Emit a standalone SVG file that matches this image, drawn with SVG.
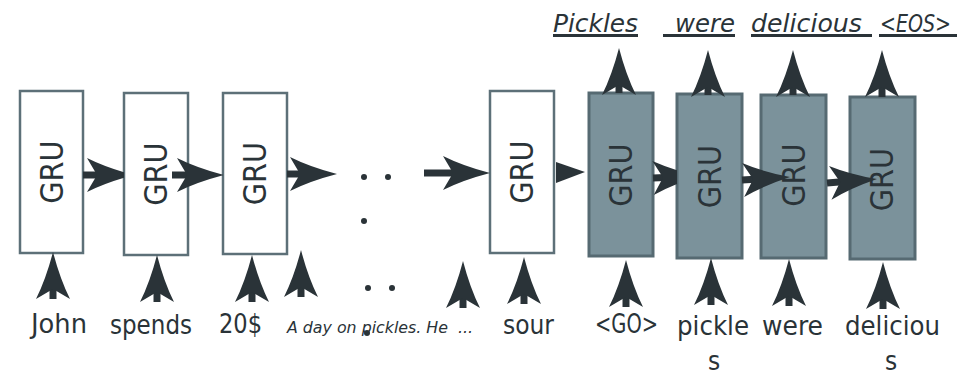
<svg xmlns="http://www.w3.org/2000/svg" width="959" height="375" viewBox="0 0 959 375">
  <style>
    .enc { fill: #ffffff; stroke: #5d7078; stroke-width: 2.5; }
    .dec { fill: #7b929b; stroke: #566a72; stroke-width: 3; }
    .gru { font-family: "DejaVu Sans Condensed", "DejaVu Sans", sans-serif; font-size: 32px; fill: #2a3338; text-anchor: middle; dominant-baseline: central; }
    .lbl { font-family: "DejaVu Sans Condensed", "DejaVu Sans", sans-serif; font-size: 26px; fill: #2a3338; }
    .out { font-family: "DejaVu Sans", sans-serif; font-size: 25px; font-style: italic; fill: #2a3338; }
    .small { font-family: "DejaVu Sans", sans-serif; font-size: 16px; font-style: italic; fill: #2a3338; }
    .edge { stroke: #2a3338; stroke-width: 7; fill: none; marker-end: url(#head); }
    .uline { stroke: #2a3338; stroke-width: 3; }
    .dot { fill: #2a3338; }
  </style>
  <defs>
    <marker id="head" viewBox="0 0 47 34" refX="12" refY="17" markerWidth="47" markerHeight="34" markerUnits="userSpaceOnUse" orient="auto">
      <path d="M47,17 Q20,10 0,0 L10,17 L0,34 Q20,24 47,17 Z" fill="#2a3338"/>
    </marker>
    <clipPath id="toGru2"><rect x="0" y="0" width="124" height="375"/></clipPath>
    <clipPath id="toGru3"><rect x="0" y="0" width="223" height="375"/></clipPath>
    <clipPath id="toSour"><rect x="0" y="0" width="490" height="375"/></clipPath>
    <clipPath id="toDec2"><rect x="0" y="0" width="677" height="375"/></clipPath>
  </defs>

  <!-- encoder cells -->
  <g id="enc1"><rect class="enc" x="20" y="91" width="63" height="162"/><text class="gru" transform="translate(51.5,172) rotate(-90)">GRU</text></g>
  <g id="enc2"><rect class="enc" x="124" y="93" width="64" height="162"/><text class="gru" transform="translate(156,174) rotate(-90)">GRU</text></g>
  <g id="enc3"><rect class="enc" x="223" y="93" width="64" height="161"/><text class="gru" transform="translate(255,173.5) rotate(-90)">GRU</text></g>
  <g id="enc4"><rect class="enc" x="490" y="91" width="64" height="162"/><text class="gru" transform="translate(522,172) rotate(-90)">GRU</text></g>

  <!-- decoder cells -->
  <g id="dec1"><rect class="dec" x="589" y="93" width="64" height="163"/><text class="gru" transform="translate(621,175) rotate(-90)">GRU</text></g>
  <g id="dec2"><rect class="dec" x="677" y="94" width="65" height="164"/><text class="gru" transform="translate(710,176.5) rotate(-90)">GRU</text></g>
  <g id="dec3"><rect class="dec" x="761" y="95" width="65" height="163"/><text class="gru" transform="translate(793.5,175) rotate(-90)">GRU</text></g>
  <g id="dec4"><rect class="dec" x="850" y="97" width="65" height="162"/><text class="gru" transform="translate(882,179.5) rotate(-90)">GRU</text></g>

  <!-- ellipsis dots -->
  <g id="ellipsis">
    <circle class="dot" cx="364" cy="177" r="3"/>
    <circle class="dot" cx="388" cy="177" r="3"/>
    <circle class="dot" cx="364" cy="221" r="3"/>
    <circle class="dot" cx="368" cy="288" r="3"/>
    <circle class="dot" cx="392" cy="288" r="3"/>
    <circle class="dot" cx="367" cy="333" r="3"/>
  </g>

  <!-- connectors -->
  <g id="connectors">
    <!-- recurrent links -->
    <line class="edge" x1="83" y1="175" x2="99" y2="175" clip-path="url(#toGru2)"/>
    <line class="edge" x1="172" y1="175" x2="189" y2="175" clip-path="url(#toGru3)"/>
    <line class="edge" x1="287" y1="174" x2="302" y2="174"/>
    <line class="edge" x1="424" y1="173" x2="455" y2="173" clip-path="url(#toSour)"/>
    <polygon points="556,162 585,172 556,183" fill="#2a3338"/>
    <line class="edge" x1="653" y1="178" x2="665" y2="177.5" clip-path="url(#toDec2)"/>
    <line class="edge" x1="742" y1="180" x2="755.1" y2="179.2"/>
    <line class="edge" x1="827" y1="183" x2="842.1" y2="181.8"/>
    <!-- inputs -->
    <line class="edge" x1="53" y1="299" x2="53" y2="287"/>
    <line class="edge" x1="157" y1="302" x2="157" y2="290"/>
    <line class="edge" x1="252" y1="302" x2="252" y2="290"/>
    <line class="edge" x1="301" y1="297" x2="301" y2="285"/>
    <line class="edge" x1="463" y1="308" x2="463" y2="296"/>
    <line class="edge" x1="524" y1="304" x2="524" y2="292"/>
    <line class="edge" x1="626" y1="307" x2="626" y2="295"/>
    <line class="edge" x1="711" y1="305" x2="711" y2="293"/>
    <line class="edge" x1="789" y1="306" x2="789" y2="294"/>
    <line class="edge" x1="883" y1="309" x2="883" y2="297"/>
    <!-- outputs -->
    <line class="edge" x1="619" y1="93" x2="619" y2="83"/>
    <line class="edge" x1="708" y1="95" x2="708" y2="85"/>
    <line class="edge" x1="793" y1="95" x2="793" y2="85"/>
    <line class="edge" x1="882" y1="97" x2="882" y2="85"/>
  </g>

  <!-- input tokens -->
  <g id="inputs">
    <text class="lbl" x="31" y="333" textLength="56" lengthAdjust="spacingAndGlyphs">John</text>
    <text class="lbl" x="110" y="334" textLength="82" lengthAdjust="spacingAndGlyphs">spends</text>
    <text class="lbl" x="219" y="333" textLength="43" lengthAdjust="spacingAndGlyphs">20$</text>
    <text class="small" x="287" y="333" textLength="186" lengthAdjust="spacingAndGlyphs" xml:space="preserve">A day on pickles. He  ...</text>
    <text class="lbl" x="503" y="334" textLength="51" lengthAdjust="spacingAndGlyphs">sour</text>
    <text class="lbl" x="595" y="333" textLength="63" lengthAdjust="spacingAndGlyphs">&lt;GO&gt;</text>
    <text class="lbl" x="677" y="335" textLength="72" lengthAdjust="spacingAndGlyphs">pickle</text>
    <text class="lbl" x="708" y="370">s</text>
    <text class="lbl" x="762" y="335" textLength="61" lengthAdjust="spacingAndGlyphs">were</text>
    <text class="lbl" x="845" y="335" textLength="95" lengthAdjust="spacingAndGlyphs">deliciou</text>
    <text class="lbl" x="885" y="370">s</text>
  </g>

  <!-- output tokens -->
  <g id="outputs">
    <text class="out" x="553" y="32" textLength="85" lengthAdjust="spacingAndGlyphs">Pickles</text>
    <text class="out" x="675" y="32" textLength="60" lengthAdjust="spacingAndGlyphs">were</text>
    <text class="out" x="751" y="32" textLength="111" lengthAdjust="spacingAndGlyphs">delicious</text>
    <text class="out" x="880" y="32" textLength="71" lengthAdjust="spacingAndGlyphs">&lt;EOS&gt;</text>
    <line class="uline" x1="553" y1="35.5" x2="638" y2="35.5"/>
    <line class="uline" x1="663" y1="35.5" x2="735" y2="35.5"/>
    <line class="uline" x1="751" y1="35.5" x2="872" y2="35.5"/>
    <line class="uline" x1="879" y1="35.5" x2="957" y2="35.5"/>
  </g>
</svg>
